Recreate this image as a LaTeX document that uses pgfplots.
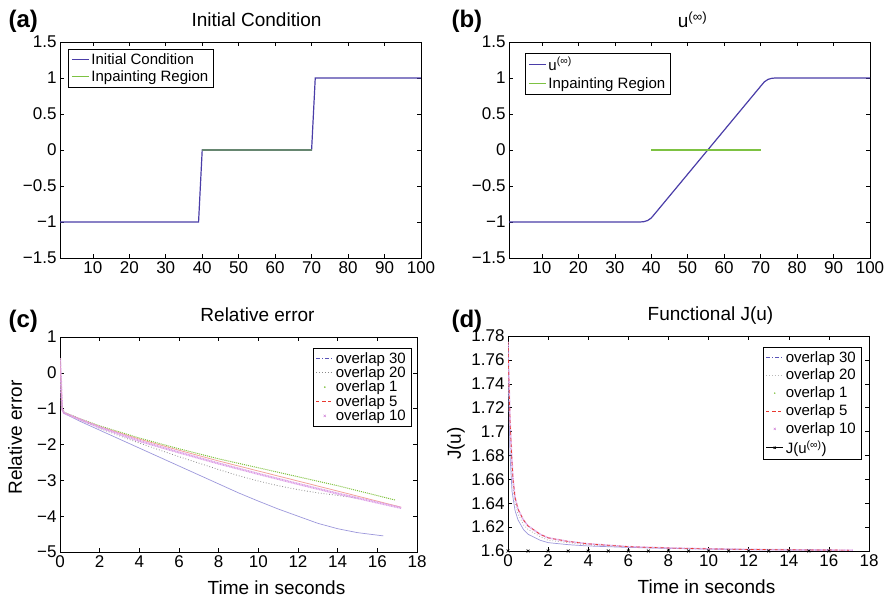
\documentclass[border=0pt]{standalone}
\usepackage{fontspec}
\setmainfont{Liberation Sans}
\usepackage{pgfplots}
\pgfplotsset{compat=1.18}

\definecolor{icblue}{HTML}{4A3DA8}
\definecolor{ipgreen}{HTML}{7DC242}
\definecolor{lav}{HTML}{9C97DB}
\definecolor{dlav}{HTML}{5A55B8}
\definecolor{dgray}{HTML}{8A8A8A}
\definecolor{dotgreen}{HTML}{7CC03A}
\definecolor{mred}{HTML}{E8392F}
\definecolor{pred}{HTML}{F2A39B}
\definecolor{mpink}{HTML}{C86BD0}
\definecolor{ppink}{HTML}{DDA0E6}

\pgfplotsset{
  mat/.style={
    scale only axis,
    axis line style={line width=0.9pt},
    tick align=inside, major tick length=4pt,
    tick style={line width=0.5pt, black},
    ticklabel style={font=\fontsize{17}{17}\selectfont},
    title style={font=\fontsize{19}{19}\selectfont, at={(axis description cs:0.5,1)}, anchor=base, yshift=9pt},
    label style={font=\fontsize{19}{19}\selectfont},
    legend style={font=\fontsize{15}{15}\selectfont, inner xsep=3pt, inner ysep=2pt},
    legend cell align=left,
    /pgf/number format/assume math mode=true,
  },
  ustep/.style={
    xmin=1, xmax=100, ymin=-1.5, ymax=1.5,
    xtick={10,20,...,100},
    ytick={-1.5,-1,...,1.5},
    yticklabels={−1.5,−1,−0.5,0,0.5,1,1.5},
  },
}

\begin{document}
\begin{tikzpicture}
\useasboundingbox (0pt,0pt) rectangle (888pt,601pt);

% (a)
\begin{axis}[mat, ustep, at={(60pt,343pt)}, anchor=south west, width=361pt, height=216pt,
  title={Initial Condition}, title style={xshift=16pt},
  legend style={at={(0,1)}, anchor=north west, xshift=8pt, yshift=-7pt, row sep=1pt}]
\addplot[icblue, line width=1.2pt, forget plot] coordinates {(1,-1)(39,-1)(40,0)(70,0)(71,1)(100,1)};
\addplot[ipgreen!55!icblue, line width=1.2pt, forget plot] coordinates {(40,0)(70,0)};
\addlegendimage{icblue, line width=1.2pt}
\addlegendentry{Initial Condition}
\addlegendimage{ipgreen, line width=1.2pt}
\addlegendentry{Inpainting Region}
\end{axis}
\node[anchor=base west, font=\bfseries\fontsize{24}{24}\selectfont] at (5pt,573pt) {(a)};

% (b)
\begin{axis}[mat, ustep, at={(509pt,343pt)}, anchor=south west, width=361pt, height=216pt,
  title={u\textsuperscript{(∞)}}, title style={xshift=3pt, yshift=-1pt},
  legend style={at={(0,1)}, anchor=north west, xshift=16pt, yshift=-11pt, row sep=2pt}]
\addplot[icblue, line width=1.2pt, forget plot] coordinates {(1,-1)(37,-1)(38,-0.995)(39,-0.98)(40,-0.945)(41,-0.885)(70,0.885)(71,0.945)(72,0.98)(73,0.995)(74,1)(100,1)};
\addplot[ipgreen, line width=1.2pt, forget plot] coordinates {(40,0)(70,0)};
\addlegendimage{icblue, line width=1.2pt}
\addlegendentry{u\textsuperscript{(∞)}}
\addlegendimage{ipgreen, line width=1.2pt}
\addlegendentry{Inpainting Region}
\end{axis}
\node[anchor=base west, font=\bfseries\fontsize{24}{24}\selectfont] at (448pt,573pt) {(b)};

% (c)
\begin{axis}[mat, at={(60pt,49pt)}, anchor=south west, width=357pt, height=215pt,
  xmin=0, xmax=18, ymin=-5, ymax=1,
  xtick={0,2,...,18}, xticklabels={0,2,4,6,8,10,12,14,16,18},
  ytick={-5,-4,...,1}, yticklabels={−5,−4,−3,−2,−1,0,1},
  title={Relative error}, title style={xshift=19pt},
  xlabel={Time in seconds}, ylabel={Relative error},
  xlabel style={at={(axis description cs:0.5,0)}, anchor=base, yshift=-43pt, xshift=38pt},
  ylabel style={at={(axis description cs:0,0.5)}, anchor=center, yshift=45pt, xshift=7pt},
  legend style={at={(1,1)}, anchor=north east, xshift=-6pt, yshift=-11pt, row sep=-2pt}]
\addplot[lav, line width=0.7pt, forget plot] coordinates {(0,0.4)(0.05,-0.5)(0.1,-1.0)(0.2,-1.13)(1,-1.35)(2,-1.6)(3,-1.85)(4,-2.1)(5,-2.35)(6,-2.6)(7,-2.85)(8,-3.1)(9,-3.35)(10,-3.58)(11,-3.8)(12,-4.0)(13,-4.2)(14,-4.35)(15,-4.46)(16.3,-4.55)};
\addplot[dgray, line width=0.8pt, dotted, forget plot] coordinates {(0,0.4)(0.1,-1.0)(0.2,-1.12)(1,-1.3)(2,-1.55)(3,-1.76)(4,-1.96)(5,-2.15)(6,-2.34)(7,-2.52)(8,-2.7)(9,-2.87)(10,-3.02)(11,-3.15)(12,-3.26)(13,-3.35)(14,-3.42)(15,-3.5)};
\addplot[dotgreen, line width=1pt, densely dotted, forget plot] coordinates {(0,0.4)(0.1,-1.0)(0.2,-1.1)(1,-1.28)(2,-1.48)(4,-1.82)(6,-2.12)(8,-2.4)(10,-2.65)(12,-2.9)(14,-3.15)(16.9,-3.55)};
\addplot[pred, line width=0.8pt, forget plot] coordinates {(0,0.4)(0.1,-1.0)(0.2,-1.11)(1,-1.29)(2,-1.5)(4,-1.85)(6,-2.16)(8,-2.46)(10,-2.74)(12,-3.02)(14,-3.3)(17.2,-3.75)};
\addplot[ppink, line width=2.2pt, dash pattern=on 1pt off 0.6pt, forget plot] coordinates {(0,0.4)(0.1,-1.0)(0.2,-1.12)(1,-1.3)(2,-1.52)(4,-1.9)(6,-2.22)(8,-2.53)(10,-2.82)(12,-3.1)(14,-3.37)(17.2,-3.77)};
\addlegendimage{dlav, line width=0.9pt, dash pattern=on 4pt off 2pt on 1pt off 2pt}
\addlegendentry{overlap 30}
\addlegendimage{dgray, line width=0.9pt, dotted}
\addlegendentry{overlap 20}
\addlegendimage{only marks, mark=*, mark size=0.6pt, dotgreen}
\addlegendentry{overlap 1}
\addlegendimage{mred, line width=0.9pt, dashed}
\addlegendentry{overlap 5}
\addlegendimage{only marks, mark=x, mark size=1.6pt, mpink}
\addlegendentry{overlap 10}
\end{axis}
\node[anchor=base west, font=\bfseries\fontsize{24}{24}\selectfont] at (5pt,273pt) {(c)};

% (d)
\begin{axis}[mat, at={(508pt,50pt)}, anchor=south west, width=361pt, height=215pt,
  xmin=0, xmax=18, ymin=1.6, ymax=1.78,
  xtick={0,2,...,18}, xticklabels={0,2,4,6,8,10,12,14,16,18},
  ytick={1.6,1.62,...,1.79}, yticklabels={1.6,1.62,1.64,1.66,1.68,1.7,1.72,1.74,1.76,1.78},
  title={Functional J(u)}, title style={xshift=22pt},
  xlabel={Time in seconds}, ylabel={J(u)},
  xlabel style={at={(axis description cs:0.5,0)}, anchor=base, yshift=-43pt, xshift=18pt},
  ylabel style={at={(axis description cs:0,0.5)}, anchor=center, yshift=52pt, xshift=0pt},
  legend style={at={(1,1)}, anchor=north east, xshift=-8pt, yshift=-11pt, row sep=1.5pt}]
\addplot[lav, line width=0.7pt, forget plot] coordinates {(0,1.775)(0.05,1.72)(0.1,1.68)(0.2,1.65)(0.35,1.634)(0.5,1.626)(0.77,1.618)(1,1.614)(1.6,1.609)(2,1.607)(3,1.6053)(4,1.6042)(6,1.603)(8,1.6022)(10,1.6016)(12,1.6012)(14,1.6009)(16.3,1.6007)};
\addplot[dgray!70, line width=0.8pt, dotted, forget plot] coordinates {(0,1.775)(0.1,1.695)(0.2,1.66)(0.35,1.64)(0.5,1.631)(0.77,1.622)(1,1.618)(1.6,1.612)(2,1.609)(3,1.607)(4,1.605)(6,1.6033)(8,1.6023)(10,1.6017)(12,1.6012)(15,1.6008)};
\addplot[ppink, line width=1.6pt, dash pattern=on 1pt off 0.6pt, forget plot] coordinates {(0,1.775)(0.05,1.74)(0.1,1.71)(0.18,1.68)(0.25,1.66)(0.35,1.645)(0.5,1.635)(0.77,1.626)(1,1.621)(1.6,1.614)(2,1.611)(3,1.608)(4,1.606)(6,1.6036)(8,1.6025)(10,1.6018)(12,1.6013)(14,1.601)(17.2,1.6007)};
\addplot[mred, line width=0.7pt, dashed, forget plot] coordinates {(0,1.775)(0.05,1.74)(0.1,1.71)(0.18,1.68)(0.25,1.66)(0.35,1.645)(0.5,1.635)(0.77,1.626)(1,1.621)(1.6,1.614)(2,1.611)(3,1.608)(4,1.606)(6,1.6036)(8,1.6025)(10,1.6018)(12,1.6013)(14,1.601)(17,1.6007)};
\addplot[black, line width=0.7pt, mark=x, mark size=2pt, forget plot] coordinates {(0,1.6)(1,1.6)(2,1.6)(3,1.6)(4,1.6)(5,1.6)(6,1.6)(7,1.6)(8,1.6)(9,1.6)(10,1.6)(11,1.6)(12,1.6)(13,1.6)(14,1.6)(15,1.6)(16,1.6)};
\addlegendimage{dlav, line width=0.9pt, dash pattern=on 4pt off 2pt on 1pt off 2pt}
\addlegendentry{overlap 30}
\addlegendimage{dgray!60, line width=0.9pt, dotted}
\addlegendentry{overlap 20}
\addlegendimage{only marks, mark=*, mark size=0.5pt, dotgreen}
\addlegendentry{overlap 1}
\addlegendimage{mred, line width=0.9pt, dashed}
\addlegendentry{overlap 5}
\addlegendimage{only marks, mark=x, mark size=1.5pt, mpink}
\addlegendentry{overlap 10}
\addlegendimage{black, line width=0.8pt, mark=x, mark size=1.5pt}
\addlegendentry{J(u\textsuperscript{(∞)})}
\end{axis}
\node[anchor=base west, font=\bfseries\fontsize{24}{24}\selectfont] at (448pt,273pt) {(d)};
\end{tikzpicture}
\end{document}
